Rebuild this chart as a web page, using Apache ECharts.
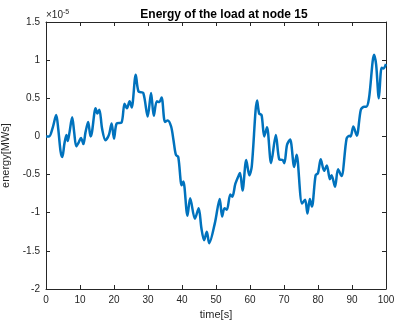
<!DOCTYPE html>
<html><head><meta charset="utf-8">
<script src="https://cdn.jsdelivr.net/npm/echarts@6/dist/echarts.min.js"></script>
<style>html,body{margin:0;padding:0;background:#fff}#c{width:396px;height:325px}</style>
</head><body><div id="c"></div>
<script>
// time [s]
const times = [0,0.9,2.0,3.0,3.6,4.3,4.8,5.4,6.0,6.4,6.9,7.7,8.3,8.9,9.6,10.3,11.0,11.6,12.4,13.1,13.5,14.6,15.1,15.7,16.5,17.5,18.5,19.3,20.0,20.8,22.2,23.1,23.8,24.6,25.2,26.4,27.2,28.6,29.9,30.9,31.7,32.6,33.3,34.0,35.0,35.8,36.8,37.5,38.2,38.9,39.9,40.4,41.6,42.4,43.8,44.9,45.7,46.5,47.3,48.0,49.7,51.1,51.8,52.5,53.2,54.2,54.8,55.7,56.8,57.1,57.8,58.9,59.8,60.5,62.1,62.7,63.4,64.2,65.0,66.2,67.6,68.6,69.6,70.1,70.9,71.8,73.0,73.7,75.3,76.2,76.9,77.6,78.2,79.3,80.0,80.8,81.8,82.6,83.5,84.0,85.0,85.9,86.9,88.4,89.2,89.6,90.4,91.4,92.6,93.6,94.2,95.0,96.5,97.1,97.9,98.7,99.2,100];
// energy [MWs] in units of 1e-5
const energy = [0,0,0.12,0.28,0.1,-0.2,-0.27,-0.1,0.02,-0.06,0.05,0.25,0.05,-0.13,-0.08,-0.02,-0.1,0.05,0.19,0.0,0.05,0.37,0.30,0.35,0.1,-0.05,0.02,0.17,-0.03,0.17,0.18,0.43,0.37,0.46,0.38,0.81,0.59,0.57,0.26,0.57,0.27,0.46,0.45,0.51,0.19,0.21,0.13,-0.05,-0.24,-0.27,-0.64,-0.59,-1.04,-0.81,-1.08,-0.94,-1.2,-1.36,-1.25,-1.40,-1.13,-0.82,-1.05,-0.94,-0.96,-0.76,-0.79,-0.62,-0.50,-0.48,-0.71,-0.31,-0.51,-0.40,0.47,0.30,0.28,0.0,0.12,-0.35,0.02,-0.30,-0.31,-0.35,-0.11,-0.04,-0.40,-0.24,-0.88,-0.83,-1.01,-0.82,-0.92,-0.51,-0.48,-0.30,-0.45,-0.38,-0.56,-0.51,-0.66,-0.43,-0.52,-0.03,0.01,0.0,0.13,0.01,0.35,0.39,0.39,0.50,1.07,0.94,0.50,0.90,0.89,0.95];
const xTicks = [0,10,20,30,40,50,60,70,80,90,100];
const yTicks = [-2,-1.5,-1,-0.5,0,0.5,1,1.5];

const chart = echarts.init(document.getElementById('c'), null, {renderer:'canvas'});
const font = 'Liberation Sans, Arial, Helvetica, sans-serif';
const axisCol = '#262626';
const baseAxis = {
  axisLine:{show:true,onZero:false,lineStyle:{color:axisCol,width:1}},
  axisTick:{show:true,inside:true,length:4,lineStyle:{color:axisCol,width:1}},
  splitLine:{show:false}
};
chart.setOption({
  animation:false,
  backgroundColor:'#fff',
  title:{text:'Energy of the load at node 15',left:219,top:4,textAlign:'center',
    textStyle:{fontFamily:font,fontSize:12,fontWeight:'bold',color:'#000'}},
  grid:{left:46,right:10,top:22,bottom:36,outerBoundsMode:'none',containLabel:false},
  xAxis:[
    Object.assign({type:'value',min:0,max:100,interval:10,position:'bottom',
      name:'time[s]',nameLocation:'middle',nameGap:20,
      nameTextStyle:{fontFamily:font,fontSize:11,color:axisCol},
      axisLabel:{fontFamily:font,fontSize:10,color:axisCol,margin:6}},baseAxis),
    Object.assign({type:'value',min:0,max:100,interval:10,position:'top',axisLabel:{show:false}},baseAxis)
  ],
  yAxis:[
    Object.assign({type:'value',min:-2,max:1.5,interval:0.5,position:'left',
      name:'energy[MWs]',nameLocation:'middle',nameGap:29,nameRotate:90,
      nameTextStyle:{fontFamily:font,fontSize:11,color:axisCol},
      axisLabel:{fontFamily:font,fontSize:10,color:axisCol,margin:6}},baseAxis),
    Object.assign({type:'value',min:-2,max:1.5,interval:0.5,position:'right',axisLabel:{show:false}},baseAxis)
  ],
  graphic:[{type:'text',left:46,top:9,style:{
    text:'{a|×10}{b|-5}',
    rich:{a:{fontFamily:font,fontSize:10,fill:axisCol},b:{fontFamily:font,fontSize:7,fill:axisCol,verticalAlign:'top',padding:[0,0,6,0]}}
  }}],
  series:[{type:'line',data:times.map((t,i)=>[t,energy[i]]),showSymbol:false,smooth:0.3,
    lineStyle:{color:'#0072BD',width:2.5},clip:true}]
});
</script></body></html>
